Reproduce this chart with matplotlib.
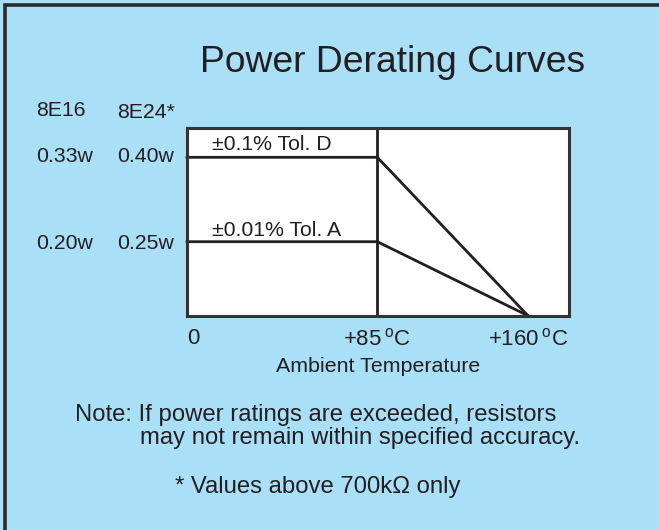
import numpy as np
import matplotlib
matplotlib.use("Agg")
import matplotlib.pyplot as plt
from matplotlib.scale import FuncScale
from matplotlib.patches import Rectangle

plt.rcParams['font.family'] = ['Liberation Sans', 'DejaVu Sans']
plt.rcParams['mathtext.fontset'] = 'custom'
plt.rcParams['mathtext.rm'] = 'Liberation Sans'

# ---- data ----
temps = [0, 85, 160]                     # ambient temperature, degC
tol_d_power = [0.40, 0.40, 0.0]          # 8E24 rating, ±0.1% Tol. D
tol_a_power = [0.25, 0.25, 0.0]          # 8E24 rating, ±0.01% Tol. A
x_tick_vals = [0, 85, 160]
x_tick_labels = ["0", "+85$\\,^{\\mathrm{o}}$C", "+160$\\,^{\\mathrm{o}}$C"]
col_headers = ["8E16", "8E24*"]
rating_8e16 = ["0.33w", "0.20w"]
rating_8e24 = ["0.40w", "0.25w"]
curve_labels = ["\u00b10.1% Tol. D", "\u00b10.01% Tol. A"]

BG = "#aadff8"
INK = "#231f20"
W, H = 659, 530

fig = plt.figure(figsize=(W / 100, H / 100), dpi=100, facecolor=BG)

def fx(px):
    return px / W

def fy(py):
    return 1 - py / H

# outer border (left and top edges visible)
fig.add_artist(Rectangle((fx(4.5), fy(H + 10)), 1.2, (H + 10 - 4.5) / H,
                         transform=fig.transFigure, fill=False,
                         edgecolor="#2b2b2b", linewidth=2.6))

ax = fig.add_axes([fx(187), fy(315.7), fx(569) - fx(187), fy(128) - fy(315.7)])
ax.set_facecolor("white")

# piecewise-linear axis scales matching the drawing
xt = np.array([-1000, 0, 85, 160, 1000])
xp = np.array([-1000 * 190.3 / 85, 0, 190.3, 341.0, 341.0 + 840 * 150.7 / 75])
ax.set_xscale(FuncScale(ax, (lambda v: np.interp(v, xt, xp), lambda v: np.interp(v, xp, xt))))
yt = np.array([-10, 0, 0.25, 0.40, 10])
yp = np.array([-10 * 74 / 0.25, 0, 74.0, 158.4, 158.4 + 9.6 * 84.4 / 0.15])
ax.set_yscale(FuncScale(ax, (lambda v: np.interp(v, yt, yp), lambda v: np.interp(v, yp, yt))))

x_right = 160 + (382.0 - 341.0) * 75 / 150.7
y_top = 0.40 + (187.7 - 158.4) * 0.15 / 84.4
ax.set_xlim(0, x_right)
ax.set_ylim(0, y_top)

ax.plot(temps, tol_d_power, color=INK, lw=2.0, solid_joinstyle="miter", clip_on=False)
ax.plot(temps, tol_a_power, color=INK, lw=2.0, solid_joinstyle="miter", clip_on=False)
ax.axvline(85, color=INK, lw=2.0)

for s in ax.spines.values():
    s.set_color("#333333")
    s.set_linewidth(2.2)

ax.set_xticks(x_tick_vals)
ax.set_xticklabels(x_tick_labels, fontsize=16, color=INK)
ax.tick_params(axis="x", length=0, pad=9)
ax.get_xticklabels()[0].set_ha("left")
ax.set_yticks([])
ax.set_xlabel("Ambient Temperature", fontsize=15.4, color=INK, labelpad=5)

# curve labels
fig.text(fx(212), fy(150), curve_labels[0], fontsize=15.3, color=INK, ha="left", va="baseline")
fig.text(fx(212), fy(235.7), curve_labels[1], fontsize=15.3, color=INK, ha="left", va="baseline")

# left column labels
fig.text(fx(36), fy(116.5), col_headers[0], fontsize=15.3, color=INK, va="baseline")
fig.text(fx(117), fy(117.5), col_headers[1], fontsize=15.3, color=INK, va="baseline")
fig.text(fx(36), fy(161.5), rating_8e16[0], fontsize=15.3, color=INK, va="baseline")
fig.text(fx(117), fy(161.5), rating_8e24[0], fontsize=15.3, color=INK, va="baseline")
fig.text(fx(36), fy(249), rating_8e16[1], fontsize=15.3, color=INK, va="baseline")
fig.text(fx(117), fy(249), rating_8e24[1], fontsize=15.3, color=INK, va="baseline")

# title
fig.text(fx(392.5), fy(72), "Power Derating Curves", fontsize=26.8, color=INK,
         ha="center", va="baseline")

# notes
fig.text(fx(75), fy(421), "Note: If power ratings are exceeded, resistors",
         fontsize=17.2, color=INK, va="baseline")
fig.text(fx(140), fy(444), "may not remain within specified accuracy.",
         fontsize=17.2, color=INK, va="baseline")
fig.text(fx(175), fy(493), "* Values above 700k\u03a9 only",
         fontsize=17.2, color=INK, va="baseline")

fig.savefig("out.png", dpi=100, facecolor=BG)
